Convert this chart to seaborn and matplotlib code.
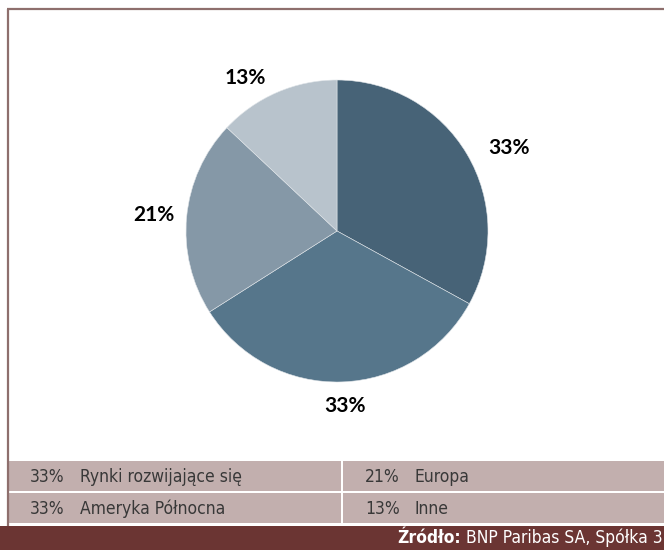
import matplotlib
matplotlib.use("Agg")
import matplotlib.pyplot as plt
from matplotlib import font_manager
from matplotlib.patches import Rectangle
import seaborn as sns

# ---- data ----
categories = ["Rynki rozwijające się", "Ameryka Północna", "Europa", "Inne"]
values = [33, 33, 21, 13]
slice_colors = ["#476377", "#56768b", "#8598a7", "#b8c3cc"]
source_bold = "Źródło:"
source_text = " BNP Paribas SA, Spółka 3"

sns.set_theme(style="white")

fl = font_manager.fontManager.ttflist
def find_file(key, fallback_weight):
    for f in fl:
        if f.fname.endswith(key):
            return font_manager.FontProperties(fname=f.fname)
    return font_manager.FontProperties(family="DejaVu Sans", weight=fallback_weight)

fp_reg = find_file("DejaVuSansCondensed.ttf", "normal")
fp_bold = find_file("DejaVuSansCondensed-Bold.ttf", "bold")

W, H = 664, 550
fig = plt.figure(figsize=(W / 100, H / 100), dpi=100)
fig.patch.set_facecolor("white")

bg = fig.add_axes([0, 0, 1, 1])
bg.set_xlim(0, W)
bg.set_ylim(H, 0)
bg.axis("off")

border_c = "#8e6f6d"
pink = "#c2afae"
footer_c = "#6b3533"

bg.plot([7, W], [9, 9], color=border_c, lw=1.6, solid_capstyle="butt")
bg.plot([7.5, 7.5], [9, 526], color=border_c, lw=1.6, solid_capstyle="butt")

row_top = [460.5, 492.5]
row_h = 30
col_x = [8, 343]
col_w = [333, W - 343]
for r in range(2):
    for c in range(2):
        bg.add_patch(Rectangle((col_x[c], row_top[r]), col_w[c], row_h,
                               facecolor=pink, edgecolor="none"))
fs = 12.5
for i, (cat, v) in enumerate(zip(categories, values)):
    r, c = i % 2, i // 2
    y = row_top[r] + row_h / 2 + 1
    x0 = col_x[c] + 22
    bg.text(x0, y, f"{v}%", fontproperties=fp_reg, fontsize=fs, color="#383838", va="center", ha="left")
    bg.text(x0 + 50, y, cat, fontproperties=fp_reg, fontsize=fs, color="#383838", va="center", ha="left")

bg.add_patch(Rectangle((0, 526), W, H - 526, facecolor=footer_c, edgecolor="none"))
t2 = bg.text(663, 538, source_text, fontproperties=fp_reg, fontsize=fs, color="white", va="center", ha="right")
fig.canvas.draw()
bb = t2.get_window_extent()
x_left = bg.transData.inverted().transform((bb.x0, bb.y0))[0]
bg.text(x_left, 538, source_bold, fontproperties=fp_bold, fontsize=fs, color="white", va="center",
        ha="right")

cx, cy, R = 337, 231, 151
ax = fig.add_axes([(cx - R) / W, (H - cy - R) / H, 2 * R / W, 2 * R / H])
pal = sns.color_palette(slice_colors)
wedges, texts, autotexts = ax.pie(values, colors=pal, startangle=90, counterclock=False,
                                  autopct="%.0f%%", pctdistance=1.2,
                                  wedgeprops=dict(linewidth=0.4, edgecolor="#dfe4e8"),
                                  textprops=dict(fontsize=15, color="black",
                                                 family=["Lato", "DejaVu Sans"],
                                                 fontweight="bold"))
label_shift = [(0.106, -0.06), (0.015, 0.04), (-0.015, -0.01), (-0.13, -0.09)]
for t, (dx, dy) in zip(autotexts, label_shift):
    x, y = t.get_position()
    t.set_position((x + dx, y + dy))
ax.set_xlim(-1, 1)
ax.set_ylim(-1, 1)
ax.set_aspect("equal")
ax.axis("off")

fig.savefig("out.png", dpi=100, facecolor="white")
